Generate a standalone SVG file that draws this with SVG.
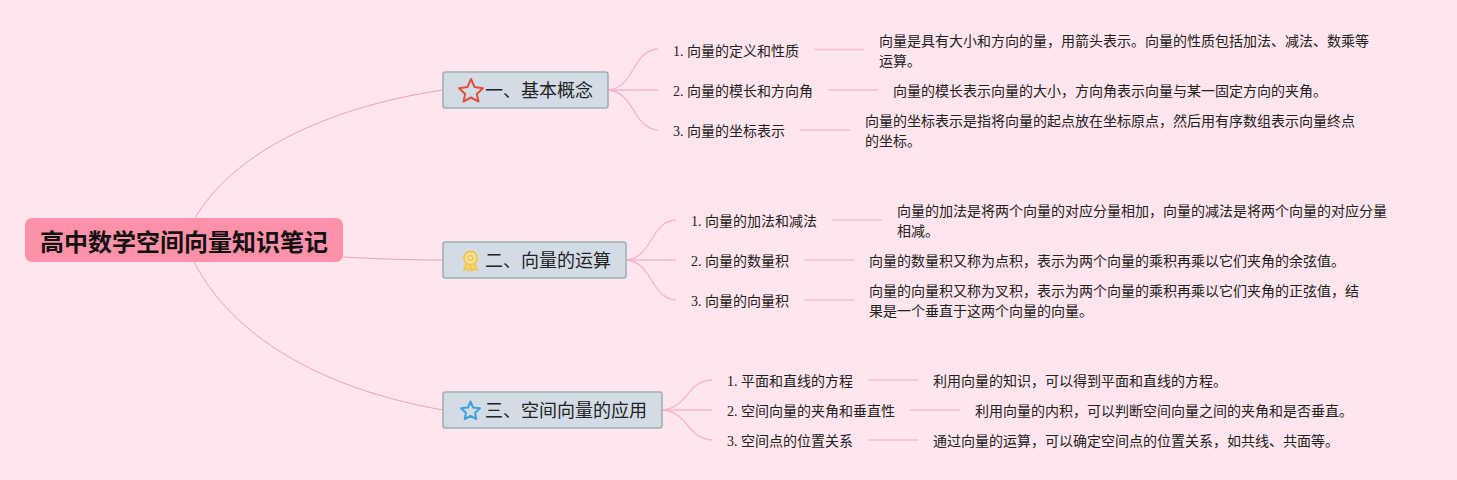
<svg xmlns="http://www.w3.org/2000/svg" width="1457" height="480" viewBox="0 0 1457 480">
<style>
text{font-family:"Liberation Serif","Noto Sans CJK SC",serif;fill:#222}
.root{font-family:"Noto Sans CJK SC",sans-serif;font-size:24px;font-weight:700;fill:#111}
.b{font-family:"Liberation Sans","Noto Sans CJK SC",sans-serif;font-size:18px;fill:#222}
.s{font-size:14px}
.d{font-size:14px}
.box{fill:#d3dce6;stroke:#9cb3b3;stroke-width:1.6}
.c path{fill:none;stroke:#f4a0b8;stroke-width:1}
.c .t{stroke:#f8b4c8;stroke-width:1.3}
.c .h{stroke:#f8bdd0;stroke-width:1.5}
</style>
<rect width="1457" height="480" fill="#ffe5ed"/>
<g class="c" id="connectors">
<path d="M195 218C232 155 322 108 443 90"/>
<path d="M343 257C380 259 410 260 443 260"/>
<path d="M194 262C232 335 318 388 443 410"/>
<path class="t" d="M608 90C635 88 632 50 658 49"/>
<path class="t" d="M608 90H658"/>
<path class="t" d="M608 90C635 92 632 128 658 130"/>
<path class="t" d="M626 260C653 258 650 221 676 220"/>
<path class="t" d="M626 260H676"/>
<path class="t" d="M626 260C653 262 650 298 676 300"/>
<path class="t" d="M662 410C689 408 686 381 712 380"/>
<path class="t" d="M662 410H712"/>
<path class="t" d="M662 410C689 412 686 438 712 440"/>
<path class="h" d="M814 49.500H864"/><path class="h" d="M828 90H878"/><path class="h" d="M800 130H850"/>
<path class="h" d="M832 220H882"/><path class="h" d="M804 260H854"/><path class="h" d="M804 300H854"/>
<path class="h" d="M868 380H918"/><path class="h" d="M910 410H960"/><path class="h" d="M868 440H918"/>
</g>
<g id="root"><rect x="25" y="218" width="318" height="44" rx="7" fill="#ff92a9"/><text class="root" x="184" y="251" text-anchor="middle">高中数学空间向量知识笔记</text></g>
<g id="n1"><rect class="box" x="443" y="72" width="165" height="36" rx="2.5"/>
<path d="M471 79L474.500 87L483 88.200L476.800 94L478.500 101.500L471 97.500L463.500 101.500L465.200 94L459 88.200L467.500 87Z" fill="none" stroke="#e2503c" stroke-width="2" stroke-linejoin="round"/>
<text class="b" x="485" y="97">一、基本概念</text></g>
<g id="n2"><rect class="box" x="443" y="242" width="183" height="36" rx="2.5"/>
<circle cx="470.500" cy="258" r="6.500" fill="#f6e3a5" stroke="#f0c64a" stroke-width="2"/><circle cx="470.500" cy="258" r="2.500" fill="none" stroke="#f0c64a" stroke-width="1.500"/>
<path d="M466 264L463.500 270L467 269L469 271L471 266M475 264L477.500 270L474 269L472 271L470 266" fill="#f6d36e" stroke="#f0c64a" stroke-width="1.500" stroke-linejoin="round"/>
<text class="b" x="485" y="267">二、向量的运算</text></g>
<g id="n3"><rect class="box" x="443" y="392" width="219" height="36" rx="2.500"/>
<path d="M470.500 401.500L473 407.500L480 408.300L475 412.700L476.300 419L470.500 415.800L464.700 419L466 412.700L461 408.300L468 407.500Z" fill="none" stroke="#3aa3dd" stroke-width="2" stroke-linejoin="round"/>
<text class="b" x="485" y="417">三、空间向量的应用</text></g>
<g id="a1"><text class="s" x="673" y="56">1. 向量的定义和性质</text><text class="d" x="879" y="46">向量是具有大小和方向的量，用箭头表示。向量的性质包括加法、减法、数乘等</text><text class="d" x="879" y="66">运算。</text></g>
<g id="a2"><text class="s" x="673" y="96">2. 向量的模长和方向角</text><text class="d" x="893" y="96">向量的模长表示向量的大小，方向角表示向量与某一固定方向的夹角。</text></g>
<g id="a3"><text class="s" x="673" y="136">3. 向量的坐标表示</text><text class="d" x="865" y="126">向量的坐标表示是指将向量的起点放在坐标原点，然后用有序数组表示向量终点</text><text class="d" x="865" y="146">的坐标。</text></g>
<g id="b1"><text class="s" x="691" y="226">1. 向量的加法和减法</text><text class="d" x="897" y="216">向量的加法是将两个向量的对应分量相加，向量的减法是将两个向量的对应分量</text><text class="d" x="897" y="236">相减。</text></g>
<g id="b2"><text class="s" x="691" y="266">2. 向量的数量积</text><text class="d" x="869" y="266">向量的数量积又称为点积，表示为两个向量的乘积再乘以它们夹角的余弦值。</text></g>
<g id="b3"><text class="s" x="691" y="306">3. 向量的向量积</text><text class="d" x="869" y="296">向量的向量积又称为叉积，表示为两个向量的乘积再乘以它们夹角的正弦值，结</text><text class="d" x="869" y="316">果是一个垂直于这两个向量的向量。</text></g>
<g id="c1"><text class="s" x="727" y="386">1. 平面和直线的方程</text><text class="d" x="933" y="386">利用向量的知识，可以得到平面和直线的方程。</text></g>
<g id="c2"><text class="s" x="727" y="416">2. 空间向量的夹角和垂直性</text><text class="d" x="975" y="416">利用向量的内积，可以判断空间向量之间的夹角和是否垂直。</text></g>
<g id="c3"><text class="s" x="727" y="446">3. 空间点的位置关系</text><text class="d" x="933" y="446">通过向量的运算，可以确定空间点的位置关系，如共线、共面等。</text></g>
</svg>
